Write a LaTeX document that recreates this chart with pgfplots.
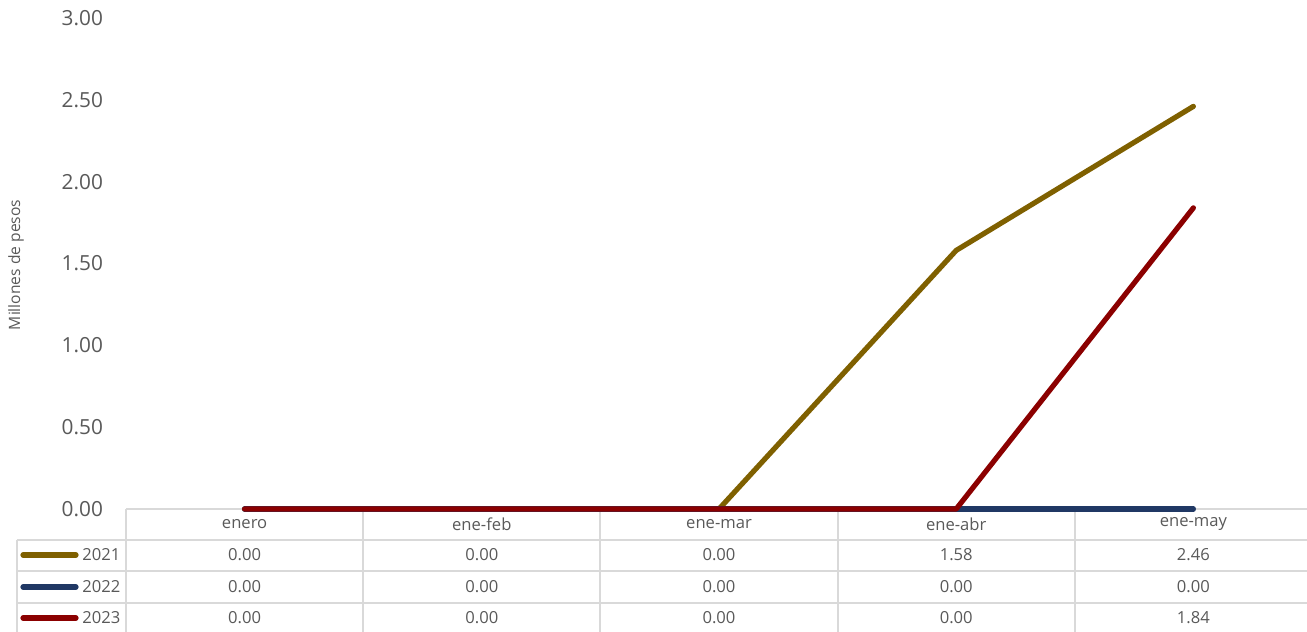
\documentclass[border=0pt]{standalone}
\usepackage{pgfplots}
\pgfplotsset{compat=1.18}
\usepackage{fontspec}
\setmainfont{Open Sans}
\definecolor{c21}{HTML}{7F6000}
\definecolor{c22}{HTML}{203864}
\definecolor{c23}{HTML}{8B0000}
\definecolor{gridc}{HTML}{D9D9D9}
\definecolor{txt}{HTML}{595959}
\begin{document}
\begin{tikzpicture}
\useasboundingbox (-63pt,-61.5pt) rectangle (590.5pt,254.5pt);
% data table grid
\draw[gridc, line width=1pt] (0,0) -- (590.5pt,0);
\draw[gridc, line width=1pt] (-54.5pt,-15.25pt) -- (590.5pt,-15.25pt);
\draw[gridc, line width=1pt] (-54.5pt,-31pt) -- (590.5pt,-31pt);
\draw[gridc, line width=1pt] (-54.5pt,-47pt) -- (590.5pt,-47pt);
\draw[gridc, line width=1pt] (0,0) -- (0,-61.5pt);
\draw[gridc, line width=1pt] (-54.5pt,-15.25pt) -- (-54.5pt,-61.5pt);
\foreach \k in {1,2,3,4} \draw[gridc, line width=1pt] (118.6pt*\k,0) -- (118.6pt*\k,-61.5pt);
\begin{axis}[
  scale only axis, width=590.5pt, height=245.5pt,
  at={(0,0)}, anchor=south west,
  xmin=-0.5, xmax=4.479, ymin=0, ymax=3,
  axis line style={draw=none},
  ytick={0,0.5,...,3}, major tick length=0pt, tick style={draw=none},
  yticklabel style={font=\fontsize{10.4}{12}\selectfont, text=txt, xshift=-8pt},
  xtick=\empty,
  /pgf/number format/.cd, fixed, fixed zerofill, precision=2, assume math mode=true,
  /pgfplots/.cd,
  clip=false,
]
\addplot[c21, line width=2.6pt, line cap=round, line join=round] coordinates {(0,0) (1,0) (2,0) (3,1.58) (4,2.46)};
\addplot[c22, line width=2.6pt, line cap=round, line join=round] coordinates {(0,0) (1,0) (2,0) (3,0) (4,0)};
\addplot[c23, line width=2.6pt, line cap=round, line join=round] coordinates {(0,0) (1,0) (2,0) (3,0) (4,1.84)};
\end{axis}
% table text
\begin{scope}[every node/.style={font=\fontsize{8.3}{10}\selectfont, text=txt, inner sep=0pt}]
\foreach \lab [count=\i from 0] in {enero,ene-feb,ene-mar,ene-abr,ene-may}
  \node at (59.3pt+118.6pt*\i,-7.6pt) {\lab};
\foreach \v [count=\i from 0] in {0.00,0.00,0.00,1.58,2.46}
  \node at (59.3pt+118.6pt*\i,-23pt) {\v};
\foreach \v [count=\i from 0] in {0.00,0.00,0.00,0.00,0.00}
  \node at (59.3pt+118.6pt*\i,-39pt) {\v};
\foreach \v [count=\i from 0] in {0.00,0.00,0.00,0.00,1.84}
  \node at (59.3pt+118.6pt*\i,-54.5pt) {\v};
\node[anchor=west] at (-22pt,-23pt) {2021};
\node[anchor=west] at (-22pt,-39pt) {2022};
\node[anchor=west] at (-22pt,-54.5pt) {2023};
\end{scope}
\draw[c21, line width=2.6pt, line cap=round] (-51.5pt,-23pt) -- (-25pt,-23pt);
\draw[c22, line width=2.6pt, line cap=round] (-51.5pt,-39pt) -- (-25pt,-39pt);
\draw[c23, line width=2.6pt, line cap=round] (-51.5pt,-54.5pt) -- (-25pt,-54.5pt);
\node[rotate=90, font=\fontsize{7.8}{9}\selectfont, text=txt, inner sep=0pt] at (-55pt,122pt) {Millones de pesos};
\end{tikzpicture}
\end{document}
